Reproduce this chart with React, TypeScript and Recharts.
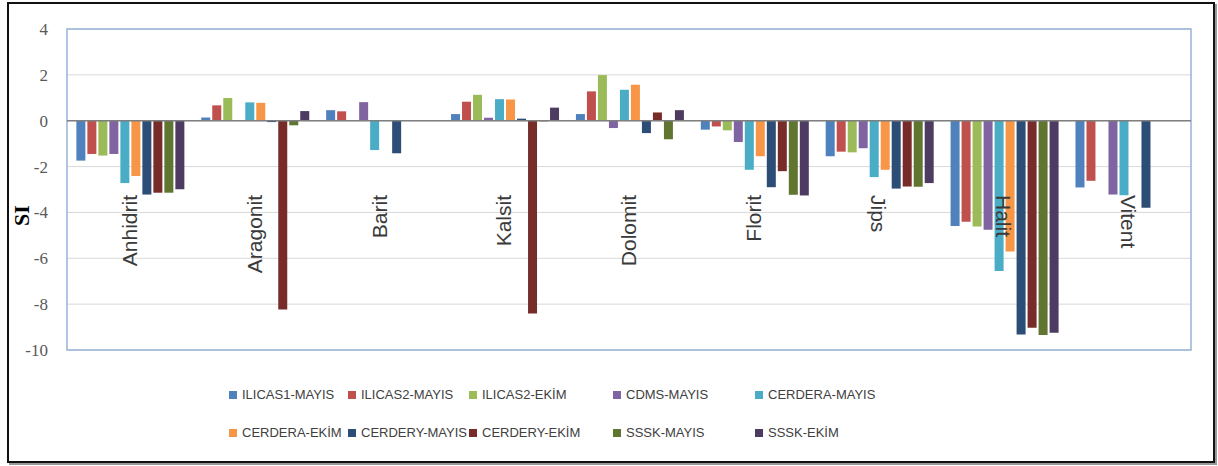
import {
  Bar,
  BarChart,
  CartesianGrid,
  Label,
  ReferenceArea,
  ReferenceLine,
  XAxis,
  YAxis,
} from "recharts";

const categories = ["Anhidrit", "Aragonit", "Barit", "Kalsit", "Dolomit", "Florit", "Jips", "Halit", "Vitent"];

const ilicas1Mayis = [-1.74, 0.14, 0.46, 0.29, 0.29, -0.39, -1.55, -4.59, -2.91];
const ilicas2Mayis = [-1.45, 0.67, 0.41, 0.83, 1.28, -0.25, -1.35, -4.41, -2.62];
const ilicas2Ekim = [-1.52, 0.99, null, 1.13, 1.99, -0.42, -1.38, -4.61, null];
const cdmsMayis = [-1.45, 0, 0.81, 0.13, -0.32, -0.93, -1.2, -4.75, -3.22];
const cerderaMayis = [-2.72, 0.8, -1.28, 0.94, 1.35, -2.14, -2.46, -6.55, -3.25];
const cerderaEkim = [-2.41, 0.78, null, 0.93, 1.57, -1.55, -2.14, -5.7, null];
const cerderyMayis = [-3.22, -0.06, -1.42, 0.09, -0.54, -2.9, -2.96, -9.32, -3.8];
const cerderyEkim = [-3.14, -8.23, null, -8.41, 0.36, -2.2, -2.87, -9.03, null];
const ssskMayis = [-3.14, -0.2, null, -0.03, -0.81, -3.23, -2.88, -9.35, null];
const ssskEkim = [-2.99, 0.42, null, 0.57, 0.46, -3.26, -2.72, -9.25, null];

const yTicks = [-10, -8, -6, -4, -2, 0, 2, 4];

// labels Excel drew the other way round
const flipped = ["Jips", "Halit", "Vitent"];

const series = [
  { key: "ILICAS1-MAYIS", values: ilicas1Mayis, color: "#4F81BD" },
  { key: "ILICAS2-MAYIS", values: ilicas2Mayis, color: "#C0504D" },
  { key: "ILICAS2-EKİM", values: ilicas2Ekim, color: "#9BBB59" },
  { key: "CDMS-MAYIS", values: cdmsMayis, color: "#8064A2" },
  { key: "CERDERA-MAYIS", values: cerderaMayis, color: "#4BACC6" },
  { key: "CERDERA-EKİM", values: cerderaEkim, color: "#F79646" },
  { key: "CERDERY-MAYIS", values: cerderyMayis, color: "#2C4D75" },
  { key: "CERDERY-EKİM", values: cerderyEkim, color: "#772C2A" },
  { key: "SSSK-MAYIS", values: ssskMayis, color: "#5F7530" },
  { key: "SSSK-EKİM", values: ssskEkim, color: "#4D3B62" },
];

const data = categories.map((name, i) => {
  const row: Record<string, string | number | null> = { name };
  series.forEach((s) => {
    row[s.key] = s.values[i];
  });
  return row;
});

const legendCols = [119, 121, 144, 142, 130];

const renderCategoryTick = (props: any) => {
  const { x, payload } = props;
  const y = 195;
  const flip = flipped.includes(payload.value);
  return (
    <text
      key={payload.value}
      x={x}
      y={y}
      dy="0.35em"
      textAnchor={flip ? "start" : "end"}
      transform={`rotate(${flip ? 90 : -90}, ${x}, ${y})`}
      fontFamily="Liberation Sans, Arial, sans-serif"
      fontSize={21}
      fill="#3a3a3a"
    >
      {payload.value}
    </text>
  );
};

function ChartLegend() {
  return (
    <div
      style={{
        position: "absolute",
        left: 229,
        top: 386,
        display: "grid",
        gridTemplateColumns: legendCols.map((w) => `${w}px`).join(" "),
        rowGap: 21,
        fontFamily: "Liberation Sans, Arial, sans-serif",
        fontSize: 13,
        color: "#404040",
      }}
    >
      {series.map((s) => (
        <div key={s.key} style={{ display: "flex", alignItems: "center", height: 17, whiteSpace: "nowrap" }}>
          <span style={{ width: 8, height: 8, flexShrink: 0, background: s.color, marginRight: 5 }} />
          <span>{s.key}</span>
        </div>
      ))}
    </div>
  );
}

export default function App() {
  return (
    <div style={{ position: "absolute", left: 0, top: 0, width: 1218, height: 466, background: "#fff" }}>
      <div
        style={{
          position: "absolute",
          left: 7,
          top: 2,
          width: 1208,
          height: 461,
          border: "2px solid #111",
          boxShadow: "2px 2px 0 #999",
          boxSizing: "border-box",
        }}
      />
      <BarChart
        width={1218}
        height={466}
        data={data}
        margin={{ top: 29, right: 27, bottom: 106, left: 0 }}
        barCategoryGap="7.5%"
        barGap={2}
        style={{ position: "absolute", left: 0, top: 0 }}
      >
        <CartesianGrid vertical={false} stroke="#D9D9D9" />
        <XAxis
          dataKey="name"
          height={10}
          axisLine={false}
          tickLine={false}
          interval={0}
          tick={renderCategoryTick}
        />
        <YAxis
          width={67}
          domain={[-10, 4]}
          ticks={yTicks}
          axisLine={false}
          tickLine={false}
          tickSize={0}
          tickMargin={19}
          tick={{ fill: "#595959", fontSize: 17, fontFamily: "Liberation Serif, serif" }}
        >
          <Label
            value="SI"
            angle={-90}
            position="insideLeft"
            offset={0}
            dx={21}
            dy={26}
            style={{ textAnchor: "middle", fontFamily: "Liberation Serif, serif", fontWeight: "bold", fontSize: 22, fill: "#000" }}
          />
        </YAxis>
        <ReferenceArea y1={-10} y2={4} fill="none" stroke="#95B3D7" strokeWidth={1.5} />
        {series.map((s) => (
          <Bar key={s.key} dataKey={s.key} fill={s.color} isAnimationActive={false} />
        ))}
        <ReferenceLine y={0} stroke="#7F7F7F" strokeWidth={1.5} />
      </BarChart>
      <ChartLegend />
    </div>
  );
}
